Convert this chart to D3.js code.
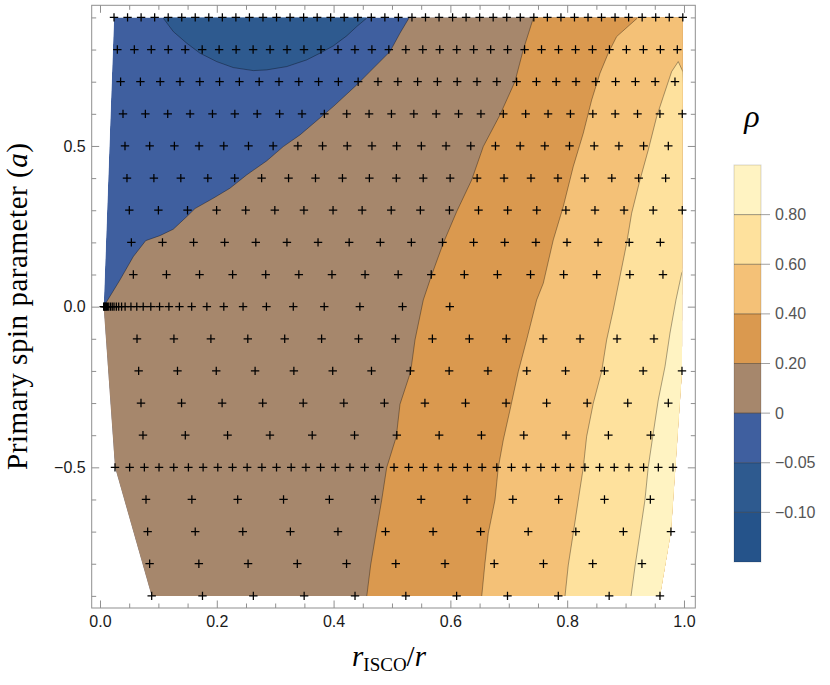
<!DOCTYPE html>
<html><head><meta charset="utf-8">
<script src="https://cdn.jsdelivr.net/npm/d3@7"></script>
<style>body{margin:0;background:#fff}</style>
</head><body>
<svg id="chart" width="830" height="685"></svg>
<script>
// ---------------- data ----------------
const spinRows = [0.9, 0.8, 0.7, 0.6, 0.5, 0.4, 0.3, 0.2, 0.1, 0.0, -0.1, -0.2, -0.3, -0.4, -0.5, -0.6, -0.7, -0.8, -0.9];
const rowX = [
  [0.024,0.0472,0.0704,0.0936,0.1168,0.14,0.1631,0.1863,0.2095,0.2327,0.2559,0.2791,0.3023,0.3255,0.3487,0.3719,0.395,0.4182,0.4414,0.4646,0.4878,0.511,0.5342,0.5574,0.5806,0.6038,0.6269,0.6501,0.6733,0.6965,0.7197,0.7429,0.7661,0.7893,0.8125,0.8357,0.8588,0.882,0.9052,0.9284,0.9516,0.9748,0.998],
  [0.0297,0.0588,0.0878,0.1169,0.1459,0.175,0.204,0.2331,0.2622,0.2912,0.3203,0.3493,0.3784,0.4075,0.4365,0.4656,0.4946,0.5237,0.5527,0.5818,0.6109,0.6399,0.669,0.698,0.7271,0.7561,0.7852,0.8143,0.8433,0.8724,0.9014,0.9305,0.9596,0.9886],
  [0.0353,0.0692,0.1031,0.137,0.1709,0.2048,0.2387,0.2726,0.3065,0.3404,0.3743,0.4082,0.4421,0.476,0.51,0.5439,0.5778,0.6117,0.6456,0.6795,0.7134,0.7473,0.7812,0.8151,0.849,0.8829,0.9168,0.9507,0.9846],
  [0.0394,0.0777,0.116,0.1543,0.1926,0.2309,0.2692,0.3076,0.3459,0.3842,0.4225,0.4608,0.4991,0.5374,0.5757,0.614,0.6523,0.6906,0.7289,0.7673,0.8056,0.8439,0.8822,0.9205,0.9588,0.9971],
  [0.0428,0.0851,0.1274,0.1697,0.212,0.2543,0.2965,0.3388,0.3811,0.4234,0.4657,0.508,0.5503,0.5926,0.6349,0.6772,0.7195,0.7617,0.804,0.8463,0.8886,0.9309,0.9732],
  [0.0462,0.0923,0.1384,0.1846,0.2307,0.2768,0.3229,0.369,0.4152,0.4613,0.5074,0.5535,0.5996,0.6458,0.6919,0.738,0.7841,0.8302,0.8764,0.9225,0.9686],
  [0.0502,0.1,0.1499,0.1997,0.2495,0.2994,0.3492,0.3991,0.4489,0.4987,0.5486,0.5984,0.6482,0.6981,0.7479,0.7978,0.8476,0.8974,0.9473,0.9971],
  [0.0537,0.107,0.1603,0.2135,0.2668,0.3201,0.3734,0.4267,0.48,0.5332,0.5865,0.6398,0.6931,0.7464,0.7997,0.8529,0.9062,0.9595],
  [0.0571,0.1138,0.1705,0.2271,0.2838,0.3405,0.3972,0.4539,0.5106,0.5672,0.6239,0.6806,0.7373,0.794,0.8506,0.9073,0.964],
  [0.0063,0.0073,0.0084,0.0098,0.011,0.013,0.015,0.018,0.021,0.024,0.028,0.032,0.037,0.043,0.053,0.063,0.074,0.087,0.102,0.118,0.136,0.157,0.183,0.212,0.245,0.285,0.331,0.384,0.445,0.518,0.599],
  [0.0634,0.1266,0.1899,0.2531,0.3163,0.3795,0.4428,0.506,0.5692,0.6325,0.6957,0.7589,0.8221,0.8854,0.9486],
  [0.0662,0.1327,0.1991,0.2656,0.332,0.3985,0.4649,0.5314,0.5979,0.6643,0.7308,0.7972,0.8637,0.9301,0.9966],
  [0.0702,0.1397,0.2091,0.2786,0.348,0.4175,0.487,0.5564,0.6259,0.6954,0.7648,0.8343,0.9037,0.9732],
  [0.0736,0.1461,0.2185,0.291,0.3634,0.4359,0.5083,0.5808,0.6532,0.7257,0.7981,0.8706,0.943],
  [0.0257,0.0508,0.076,0.1011,0.1263,0.1514,0.1766,0.2017,0.2269,0.252,0.2772,0.3023,0.3274,0.3526,0.3777,0.4029,0.428,0.4532,0.4783,0.5035,0.5286,0.5537,0.5789,0.604,0.6292,0.6543,0.6795,0.7046,0.7298,0.7549,0.7801,0.8052,0.8303,0.8555,0.8806,0.9058,0.9309,0.9561,0.9812],
  [0.0788,0.1573,0.2358,0.3143,0.3928,0.4714,0.5499,0.6284,0.7069,0.7854,0.8639,0.9424],
  [0.0816,0.1631,0.2445,0.326,0.4075,0.4889,0.5704,0.6518,0.7333,0.8148,0.8962,0.9777],
  [0.085,0.1693,0.2536,0.3379,0.4222,0.5065,0.5908,0.6751,0.7594,0.8437,0.928],
  [0.0885,0.1755,0.2626,0.3496,0.4367,0.5237,0.6107,0.6978,0.7848,0.8719,0.9589]
];

// contour lines, [r_ISCO/r, a]
const contourM005 = [[0.1084,0.8976],[0.1255,0.8559],[0.1485,0.8198],[0.1712,0.7887],[0.1998,0.7625],[0.2283,0.7439],[0.2625,0.7345],[0.2854,0.7367],[0.3197,0.747],[0.3539,0.7678],[0.3767,0.7887],[0.3995,0.8114],[0.4224,0.8425],[0.4396,0.8715],[0.4566,0.8976]];
const contour000 = [[0.529,0.8976],[0.5137,0.8509],[0.4966,0.7937],[0.4623,0.7314],[0.4396,0.69],[0.3995,0.6225],[0.3425,0.5344],[0.3139,0.498],[0.2854,0.4535],[0.2512,0.41],[0.2226,0.3685],[0.194,0.3374],[0.1627,0.3052],[0.1485,0.2801],[0.1255,0.2409],[0.1027,0.221],[0.0783,0.2054],[0.057,0.1556],[0.0342,0.0831],[0.0063,0.0]];
const contour020 = [[0.742,0.8976],[0.7248,0.799],[0.7106,0.7003],[0.6849,0.5966],[0.6563,0.498],[0.6365,0.3944],[0.6108,0.2957],[0.5878,0.1973],[0.568,0.0987],[0.5536,0.0209],[0.5394,-0.1036],[0.532,-0.2023],[0.5137,-0.3038],[0.5074,-0.4046],[0.4909,-0.5011],[0.4824,-0.6016],[0.4726,-0.7053],[0.4635,-0.8039],[0.4567,-0.9026]];
const contour040 = [[0.92,0.8976],[0.8847,0.8403],[0.8704,0.7887],[0.8562,0.7264],[0.842,0.6433],[0.8276,0.5397],[0.8104,0.4357],[0.7933,0.3112],[0.7762,0.2076],[0.7591,0.0728],[0.7478,0.0209],[0.7306,-0.1036],[0.7163,-0.2023],[0.7021,-0.3215],[0.6906,-0.4149],[0.682,-0.5011],[0.6764,-0.6016],[0.6649,-0.7053],[0.6592,-0.7986],[0.6536,-0.9026]];
const contour060 = [[1.0,0.664],[0.9983,0.7305],[0.9902,0.7625],[0.9789,0.7314],[0.9646,0.6536],[0.9533,0.5913],[0.9389,0.4877],[0.9247,0.3943],[0.9104,0.2907],[0.9019,0.1973],[0.8904,0.0934],[0.8789,-0.0103],[0.8676,-0.1036],[0.859,-0.2023],[0.8447,-0.3007],[0.8333,-0.4046],[0.8276,-0.5011],[0.819,-0.6016],[0.8104,-0.7053],[0.8019,-0.8039],[0.7962,-0.9026]];
const contour080 = [[1.0,0.118],[0.9961,0.104],[0.9863,0.0209],[0.976,-0.0828],[0.9675,-0.1867],[0.956,-0.2904],[0.9474,-0.394],[0.9389,-0.498],[0.9332,-0.6016],[0.9247,-0.7053],[0.9161,-0.8092],[0.9092,-0.9026]];

// band colours, lowest to highest
const bandColors = ["#25538a","#2e5a8f","#3f5f9f","#a6876c","#da994f","#f4c177","#fee19d","#fff3c2"];
const legendLabels = ["\u22120.10","\u22120.05","0","0.20","0.40","0.60","0.80"];
const xTickValues = [0, 0.2, 0.4, 0.6, 0.8, 1.0];
const xTickLabels = ["0.0","0.2","0.4","0.6","0.8","1.0"];
const yTickValues = [-0.5, 0, 0.5];
const yTickLabels = ["\u22120.5","0.0","0.5"];

// ---------------- drawing ----------------
const svg = d3.select("#chart");
const x = d3.scaleLinear().domain([-0.0142, 1.0194]).range([91.7, 695.3]);
const y = d3.scaleLinear().domain([-0.9377, 0.9377]).range([608, 5.3]);
const line = d3.line().x(d => x(d[0])).y(d => y(d[1]));

const pts = spinRows.flatMap((a, i) => rowX[i].map(v => [v, a]));
const hull = d3.polygonHull(pts.map(p => [x(p[0]), y(p[1])]));
svg.append("defs").append("clipPath").attr("id", "hullClip")
  .append("path").attr("d", "M" + hull.join("L") + "Z");

const plot = svg.append("g").attr("clip-path", "url(#hullClip)");
plot.append("path").attr("d", "M" + hull.join("L") + "Z").attr("fill", bandColors[2]);

const T = 1.05, B = -1.05, FAR = 1.25, NEAR = -0.1;
function topBottom(c) { const f = c[0], l = c[c.length - 1]; return [[f[0], T], ...c, [l[0], B], [FAR, B], [FAR, T]]; }
function edgeStart(c) { const f = c[0], l = c[c.length - 1]; return [[FAR, f[1]], ...c, [l[0], B], [FAR, B]]; }
const c0l = contour000[contour000.length - 1];
const layers = [
  { poly: [[contourM005[0][0], T], ...contourM005, [contourM005[contourM005.length - 1][0], T]], c: contourM005, color: bandColors[1] },
  { poly: [[contour000[0][0], T], ...contour000, [NEAR, c0l[1]], [NEAR, B], [FAR, B], [FAR, T]], c: contour000, color: bandColors[3] },
  { poly: topBottom(contour020), c: contour020, color: bandColors[4] },
  { poly: topBottom(contour040), c: contour040, color: bandColors[5] },
  { poly: edgeStart(contour060), c: contour060, color: bandColors[6] },
  { poly: edgeStart(contour080), c: contour080, color: bandColors[7] }
];
layers.forEach(L => {
  plot.append("path").attr("d", line(L.poly) + "Z").attr("fill", L.color);
});
layers.forEach(L => {
  plot.append("path").attr("d", line(L.c)).attr("fill", "none")
    .attr("stroke", "rgba(0,0,0,0.38)").attr("stroke-width", 0.9);
});

// markers
svg.append("g").selectAll("path").data(pts).join("path")
  .attr("d", d => { const px = x(d[0]), py = y(d[1]); return `M${px - 4.2},${py}h8.4M${px},${py - 4.2}v8.4`; })
  .attr("stroke", "#000").attr("stroke-width", 1.25).attr("fill", "none");

// frame and axes
const axColor = "#8f8f8f";
svg.append("rect").attr("x", 91.7).attr("y", 5.3).attr("width", 695.3 - 91.7).attr("height", 608 - 5.3)
  .attr("fill", "none").attr("stroke", axColor).attr("stroke-width", 1);

const xMinor = x.ticks(20).filter(v => !xTickValues.some(t => Math.abs(t - v) < 1e-9));
const yMinor = y.ticks(20).filter(v => !yTickValues.some(t => Math.abs(t - v) < 1e-9));

function styleAxis(g) {
  g.select(".domain").remove();
  g.selectAll(".tick line").attr("stroke", axColor);
  g.selectAll("text").attr("fill", "#1a1a1a").style("font-family", "'Liberation Sans', Arial, sans-serif").style("font-size", "16px");
}
svg.append("g").attr("transform", "translate(0,608)")
  .call(d3.axisBottom(x).tickValues(xTickValues).tickFormat((d, i) => xTickLabels[i]).tickSizeInner(-7.5).tickSizeOuter(0).tickPadding(8)).call(styleAxis);
svg.append("g").attr("transform", "translate(0,608)")
  .call(d3.axisBottom(x).tickValues(xMinor).tickFormat("").tickSizeInner(-4.5).tickSizeOuter(0)).call(styleAxis);
svg.append("g").attr("transform", "translate(0,5.3)")
  .call(d3.axisTop(x).tickValues(xTickValues).tickFormat("").tickSizeInner(-7.5).tickSizeOuter(0)).call(styleAxis);
svg.append("g").attr("transform", "translate(0,5.3)")
  .call(d3.axisTop(x).tickValues(xMinor).tickFormat("").tickSizeInner(-4.5).tickSizeOuter(0)).call(styleAxis);
svg.append("g").attr("transform", "translate(91.7,0)")
  .call(d3.axisLeft(y).tickValues(yTickValues).tickFormat((d, i) => yTickLabels[i]).tickSizeInner(-7.5).tickSizeOuter(0).tickPadding(6)).call(styleAxis);
svg.append("g").attr("transform", "translate(91.7,0)")
  .call(d3.axisLeft(y).tickValues(yMinor).tickFormat("").tickSizeInner(-4.5).tickSizeOuter(0)).call(styleAxis);
svg.append("g").attr("transform", "translate(695.3,0)")
  .call(d3.axisRight(y).tickValues(yTickValues).tickFormat("").tickSizeInner(-7.5).tickSizeOuter(0)).call(styleAxis);
svg.append("g").attr("transform", "translate(695.3,0)")
  .call(d3.axisRight(y).tickValues(yMinor).tickFormat("").tickSizeInner(-4.5).tickSizeOuter(0)).call(styleAxis);

// axis titles
const serif = "'Liberation Serif', 'Times New Roman', serif";
const yt = svg.append("text").attr("transform", "translate(27,306.5) rotate(-90)")
  .attr("text-anchor", "middle").style("font-family", serif).style("font-size", "29px").attr("fill", "#000")
  .attr("textLength", 327).attr("lengthAdjust", "spacing");
yt.append("tspan").text("Primary spin parameter (");
yt.append("tspan").style("font-style", "italic").text("a");
yt.append("tspan").text(")");

const xt = svg.append("text").attr("x", 389).attr("y", 666).attr("text-anchor", "middle")
  .style("font-family", serif).style("font-size", "29px").attr("fill", "#000");
xt.append("tspan").style("font-style", "italic").text("r");
xt.append("tspan").attr("dy", 5).style("font-size", "19px").text("ISCO");
xt.append("tspan").attr("dy", -5).text("/");
xt.append("tspan").style("font-style", "italic").text("r");

// legend
const lx0 = 734, lx1 = 761;
const ly = d3.scaleLinear().domain([0, bandColors.length]).range([562, 165]);
const leg = svg.append("g");
leg.selectAll("rect.band").data(bandColors).join("rect").attr("class", "band")
  .attr("x", lx0).attr("width", lx1 - lx0)
  .attr("y", (d, i) => ly(i + 1)).attr("height", (d, i) => ly(i) - ly(i + 1))
  .attr("fill", d => d);
leg.append("rect").attr("x", lx0).attr("y", ly(bandColors.length)).attr("width", lx1 - lx0)
  .attr("height", ly(0) - ly(bandColors.length)).attr("fill", "none").attr("stroke", "rgba(0,0,0,0.15)");
legendLabels.forEach((lab, i) => {
  const yy = ly(i + 1);
  leg.append("line").attr("x1", lx0).attr("x2", lx1).attr("y1", yy).attr("y2", yy)
    .attr("stroke", "rgba(0,0,0,0.4)").attr("stroke-width", 1);
  leg.append("line").attr("x1", lx1).attr("x2", lx1 + 9).attr("y1", yy).attr("y2", yy)
    .attr("stroke", "#a0a0a0").attr("stroke-width", 1);
  leg.append("text").attr("x", lx1 + 14).attr("y", yy).attr("dy", "0.35em")
    .style("font-family", "'Liberation Sans', Arial, sans-serif").style("font-size", "16px")
    .attr("fill", "#555").text(lab);
});
svg.append("text").attr("x", 752).attr("y", 127).attr("text-anchor", "middle")
  .style("font-family", serif).style("font-style", "italic").style("font-size", "32px").attr("fill", "#000").text("\u03c1");
</script>
</body></html>
